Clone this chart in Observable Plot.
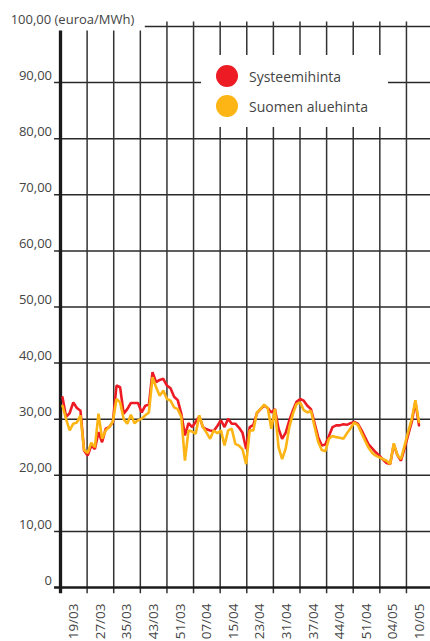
<!DOCTYPE html>
<html>
<head>
<meta charset="utf-8">
<script src="https://cdn.jsdelivr.net/npm/d3@7"></script>
<script src="https://cdn.jsdelivr.net/npm/@observablehq/plot@0.6"></script>
<style>
  html, body { margin: 0; padding: 0; background: #fff; }
  #wrap { position: relative; width: 430px; height: 641px; overflow: hidden; font-family: "Open Sans", sans-serif; }
  #legend { position: absolute; left: 201px; top: 55px; width: 187px; height: 72px; background: #fff; }
  .item { position: absolute; left: 15px; height: 22px; display: flex; align-items: center; }
  .dot { width: 22px; height: 22px; border-radius: 50%; margin-right: 11px; }
  .lbl { font-size: 14px; color: #444; }
</style>
</head>
<body>
<div id="wrap">
  <div id="chart"></div>
  <div id="legend"></div>
</div>
<script>
// Weekly prices (euroa/MWh), week 19/2003 onwards
const systeemihinta = [
  33.9, 30.4, 31.1, 33.0, 32.0, 31.5, 24.4, 23.5, 25.3, 24.7,
  27.7, 25.9, 28.3, 28.6, 29.5, 36.0, 35.7, 31.0, 31.8, 32.9,
  32.9, 32.9, 31.2, 32.4, 32.6, 38.4, 36.6, 37.0, 37.2, 36.0,
  35.5, 34.0, 33.4, 31.0, 27.1, 29.3, 28.6, 29.5, 30.5, 28.6,
  28.2, 28.0, 27.9, 28.8, 29.8, 28.6, 30.1, 29.2, 29.2, 28.5,
  27.6, 24.7, 28.6, 29.0, 31.1, 31.8, 32.4, 32.0, 31.2, 31.8,
  28.3, 26.5, 27.6, 29.8, 31.6, 33.1, 33.6, 33.3, 32.4, 31.8,
  29.3, 26.8, 25.3, 25.5, 27.0, 28.6, 28.9, 28.9, 29.1, 29.0,
  29.3, 29.5, 29.2, 28.1, 26.8, 25.5, 24.8, 24.1, 23.5, 22.8,
  22.2, 22.0, 25.5, 23.6, 22.6, 24.8, 27.2, 29.5, 33.1, 28.9
];
const suomenAluehinta = [
  32.4, 30.0, 28.0, 29.2, 29.4, 30.7, 24.5, 24.0, 25.8, 25.0,
  31.0, 26.5, 28.0, 28.6, 29.6, 33.6, 33.0, 30.0, 29.2, 30.8,
  29.3, 29.8, 30.1, 30.7, 31.2, 37.5, 35.7, 34.2, 35.1, 33.6,
  33.3, 32.1, 31.8, 30.4, 22.6, 28.0, 27.8, 27.4, 30.7, 28.6,
  27.6, 26.5, 28.0, 27.5, 28.0, 25.3, 28.0, 28.3, 25.6, 25.3,
  24.6, 22.0, 28.0, 28.0, 31.2, 31.8, 32.6, 32.0, 28.3, 31.8,
  25.0, 22.9, 24.8, 28.6, 31.0, 32.7, 33.0, 31.6, 31.2, 31.5,
  28.7, 26.0, 24.5, 24.3, 26.5, 27.0, 26.8, 26.7, 26.5, 27.5,
  28.4, 29.4, 29.0, 27.6, 26.2, 24.9, 24.0, 23.5, 23.2, 22.9,
  22.6, 22.0, 25.7, 23.6, 22.9, 25.3, 27.8, 30.0, 33.4, 29.5
];
const seriesNames = ["Systeemihinta", "Suomen aluehinta"];
const seriesColors = ["#ED1C24", "#FDB515"];
const xTickLabels = ["19/03","27/03","35/03","43/03","51/03","07/04","15/04","23/04","31/04","37/04","44/04","51/04","04/05","10/05"];
const yTicks = [0, 10, 20, 30, 40, 50, 60, 70, 80, 90, 100];
const yTickLabels = ["0","10,00","20,00","30,00","40,00","50,00","60,00","70,00","80,00","90,00","100,00 (euroa/MWh)"];

// axis geometry in week units
const x0 = -0.55, xEnd = 102.2, cellWeeks = 7.39;
const gridX = d3.range(xTickLabels.length).map(k => x0 + k * cellWeeks);
const labelX = gridX.map(g => g + cellWeeks / 2);

const rows = [];
systeemihinta.forEach((v, i) => rows.push({week: i, value: v, series: seriesNames[0]}));
suomenAluehinta.forEach((v, i) => rows.push({week: i, value: v, series: seriesNames[1]}));

const chart = Plot.plot({
  width: 430, height: 641,
  marginTop: 26, marginBottom: 54, marginLeft: 60, marginRight: 0,
  x: {domain: [x0, xEnd], axis: null},
  y: {domain: [0, 100], axis: null},
  color: {domain: seriesNames, range: seriesColors},
  style: {fontFamily: "'Open Sans', sans-serif", background: "#fff", overflow: "visible"},
  marks: [
    Plot.ruleY(yTicks.filter(v => v > 0 && v < 100), {x1: -2.2, x2: xEnd, stroke: "#2a2a2a", strokeWidth: 1.5}),
    Plot.ruleY([100], {x1: 23, x2: xEnd, stroke: "#2a2a2a", strokeWidth: 1.5}),
    Plot.ruleX(gridX.slice(1), {y1: -1.1, y2: d => d < 23 ? 99.2 : 100.8, stroke: "#333", strokeWidth: 1.5}),
    Plot.ruleY([0], {x1: -2.2, x2: xEnd, stroke: "#1a1a1a", strokeWidth: 2.4}),
    Plot.ruleX([x0], {y1: -1.1, y2: 99.2, stroke: "#1a1a1a", strokeWidth: 3.3}),
    Plot.line(rows, {x: "week", y: "value", z: "series", stroke: "series", strokeWidth: 2.6, strokeLinejoin: "miter"}),
    Plot.text(yTicks.slice(0, 10), {x: -2.9, y: d => d, text: (d, i) => yTickLabels[i], textAnchor: "end", dy: -7, fontSize: 13, fill: "#444"}),
    Plot.text([100], {x: -14.4, y: d => d, text: () => yTickLabels[10], textAnchor: "start", dy: -7, fontSize: 13, fill: "#444"}),
    Plot.text(xTickLabels, {x: (d, i) => labelX[i], y: -2.85, text: d => d, rotate: -90, textAnchor: "end", fontSize: 13.5, fill: "#444"})
  ]
});
document.getElementById("chart").appendChild(chart);

const legend = document.getElementById("legend");
seriesNames.forEach((name, i) => {
  const item = document.createElement("div");
  item.className = "item";
  item.style.top = (10 + i * 30) + "px";
  item.innerHTML = `<div class="dot" style="background:${seriesColors[i]}"></div><span class="lbl">${name}</span>`;
  legend.appendChild(item);
});
</script>
</body>
</html>
